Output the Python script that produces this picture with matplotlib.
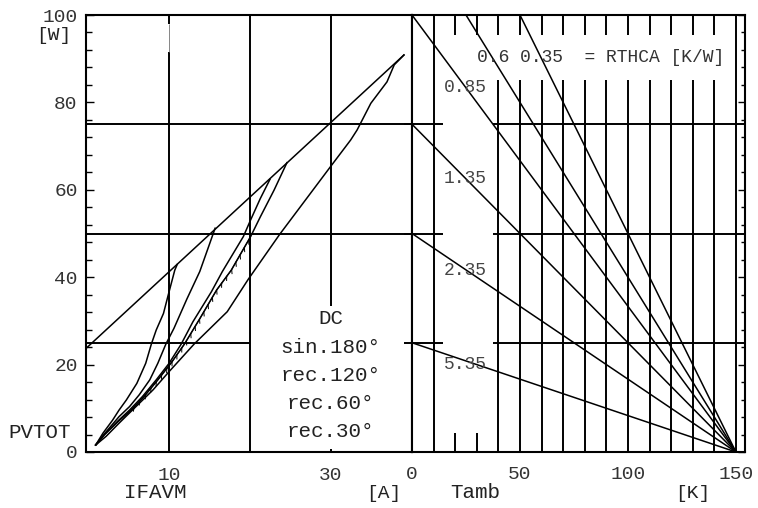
import matplotlib
matplotlib.use("Agg")
import matplotlib.pyplot as plt
import matplotlib.patheffects as pe

plt.rcParams['font.family'] = ['Liberation Mono', 'DejaVu Sans Mono']

# ---------------- data ----------------
# left diagram: total power loss PVTOT [W] vs average forward current IFAVM [A]
dc_i = [0.9, 2.2, 3.8, 5.9, 8.0, 10.0, 13.1, 17.2, 19.8, 23.7, 30.0, 32.5, 33.3, 35.0, 37.0, 37.9, 39.1]
dc_p = [1.6, 3.6, 6.6, 10.4, 14.2, 18.4, 24.7, 32.1, 39.5, 49.8, 65.3, 71.4, 73.7, 79.8, 84.7, 88.6, 90.85]

sin180_i = [0.9, 2.0, 3.7, 5.3, 6.9, 8.6, 10.3, 11.9, 13.8, 15.9, 17.7, 20.1, 21.3, 23.0, 24.6]
sin180_p = [1.6, 4.0, 7.0, 9.6, 12.7, 16.5, 20.5, 24.7, 30.5, 37.1, 41.6, 49.3, 53.8, 59.9, 66.2]

rec120_i = [0.9, 2.0, 3.6, 5.1, 6.7, 8.4, 10.0, 11.5, 12.95, 15.25, 16.6, 19.2, 20.1, 21.3, 22.5]
rec120_p = [1.6, 4.0, 7.0, 9.6, 12.7, 16.5, 20.3, 24.7, 29.8, 36.7, 41.3, 49.3, 53.1, 58.0, 62.4]

rec60_i = [0.9, 2.0, 3.8, 5.1, 6.3, 7.6, 8.6, 9.6, 10.6, 12.2, 13.8, 14.8, 15.7]
rec60_p = [1.6, 4.2, 8.1, 10.4, 13.1, 16.5, 20.3, 24.7, 28.3, 35.0, 41.3, 46.5, 51.2]

rec30_i = [0.9, 1.8, 3.0, 3.8, 4.7, 6.0, 7.1, 7.8, 8.4, 9.3, 9.9, 10.7, 11.0]
rec30_p = [1.6, 4.3, 7.3, 9.6, 11.9, 15.7, 20.3, 24.7, 27.9, 31.7, 36.0, 41.6, 42.9]

envelope_i = [-0.3, 39.1]
envelope_p = [23.7, 90.85]

legend_labels = ["DC", "sin.180°", "rec.120°", "rec.60°", "rec.30°"]

# right diagram: allowed power vs ambient temperature for several RTHCA
rthca_labels = ["0.35", "0.6", "0.85", "1.35", "2.35", "5.35"]
p_at_tamb0 = [150, 120, 100, 75, 50, 25]
tamb_ends = [0, 150]

left_xticks = [10, 30]
right_xticks = [0, 50, 100, 150]
y_major = [0, 20, 40, 60, 80, 100]

# ---------------- figure ----------------
W, H = 758, 508
fig = plt.figure(figsize=(W / 100, H / 100), dpi=100)
ax1 = fig.add_axes([86 / W, 56 / H, 326 / W, 437 / H])
ax2 = fig.add_axes([412 / W, 56 / H, 333 / W, 437 / H])

TXT = '#222222'
GLW = 1.4
CLW = 1.1

# ---- left axes ----
ax1.set_xlim(-0.3, 40.1)
ax1.set_ylim(0, 100)
for s in ax1.spines.values():
    s.set_linewidth(1.5)
ax1.set_yticks(y_major)
ax1.set_yticklabels([str(v) for v in y_major])
ax1.set_yticks(list(range(0, 101, 4)), minor=True)
ax1.tick_params(axis='y', which='major', direction='in', length=6, width=1.0,
                pad=6, labelsize=14, labelcolor='#333333')
ax1.tick_params(axis='y', which='minor', direction='in', length=4, width=1.0)
ax1.set_xticks(left_xticks)
ax1.set_xticklabels([str(v) for v in left_xticks])
ax1.tick_params(axis='x', length=0, pad=11, labelsize=14, labelcolor='#333333')

# grid (left)
ax1.vlines(10, 0, 91.5, color='k', lw=GLW)
ax1.vlines(10, 91.5, 98, color='0.45', lw=0.6)
ax1.vlines(10, 98, 100, color='k', lw=GLW)
ax1.vlines(20, 0, 100, color='k', lw=GLW)
ax1.vlines(30, 33.3, 100, color='k', lw=GLW)
ax1.vlines(30, 0, 0.8, color='k', lw=GLW)
ax1.hlines(25, -0.3, 20, color='k', lw=GLW)
ax1.hlines([50, 75], -0.3, 40.1, color='k', lw=GLW)

# curves
ax1.plot(envelope_i, envelope_p, color='k', lw=CLW)
for xi, yi in [(dc_i, dc_p), (sin180_i, sin180_p), (rec120_i, rec120_p),
               (rec60_i, rec60_p), (rec30_i, rec30_p)]:
    ax1.plot(xi, yi, color='k', lw=CLW)
# small hatch ticks along the sin.180 curve
sub = [(a, b) for a, b in zip(sin180_i, sin180_p) if 8 <= b <= 50]
ax1.plot([a for a, b in sub], [b for a, b in sub], color='k', lw=0.7,
         path_effects=[pe.withTickedStroke(angle=-145, spacing=6, length=0.5)])

legend_base = [29.3, 22.65, 16.25, 9.84, 3.43]
for lab, yb in zip(legend_labels, legend_base):
    ax1.text(30, yb, lab, ha='center', va='baseline', fontsize=15, color=TXT)

# ---- right axes ----
ax2.set_xlim(0, 154.2)
ax2.set_ylim(0, 100)
for s in ax2.spines.values():
    s.set_linewidth(1.5)
ax2.yaxis.tick_right()
ax2.set_yticks(y_major)
ax2.set_yticklabels([])
ax2.set_yticks(list(range(0, 101, 4)), minor=True)
ax2.tick_params(axis='y', which='major', direction='in', length=5, width=1.0)
ax2.tick_params(axis='y', which='minor', direction='in', length=3, width=1.0)
ax2.set_xticks(right_xticks)
ax2.set_xticklabels([str(v) for v in right_xticks])
ax2.tick_params(axis='x', length=0, pad=10, labelsize=14, labelcolor='#333333')

# grid (right)
ax2.vlines(10, 0, 100, color='k', lw=GLW)
ax2.vlines(150, 0, 100, color='k', lw=GLW)
ax2.vlines(list(range(20, 150, 10)), 95.4, 100, color='k', lw=GLW)
ax2.vlines(list(range(40, 150, 10)), 0, 85.1, color='k', lw=GLW)
ax2.vlines([20, 30], 0, 4.4, color='k', lw=GLW)
ax2.hlines([25, 50, 75], -3.7, 14.4, color='k', lw=GLW, clip_on=False)
ax2.hlines([25, 50, 75], 37.5, 154.2, color='k', lw=GLW)

for p0 in p_at_tamb0:
    ax2.plot(tamb_ends, [p0, 0], color='k', lw=CLW)

label_pos = {"0.85": 83.3, "1.35": 62.7, "2.35": 41.5, "5.35": 20.1}
for lab in rthca_labels:
    if lab in label_pos:
        ax2.text(14.6, label_pos[lab], lab, ha='left', va='center',
                 fontsize=13, color='#444444')
ax2.text(29.9, 90.2, "0.6 0.35  = RTHCA [K/W]", ha='left', va='center',
         fontsize=13, color='#333333')

# ---- axis titles ----
def ftext(x, y, s, **kw):
    fig.text(x / W, 1 - y / H, s, color=TXT, **kw)

ftext(40, 432.5, "PVTOT", ha='center', va='center', fontsize=15)
ftext(54, 35, "[W]", ha='center', va='center', fontsize=14)
ftext(155, 493, "IFAVM", ha='center', va='center', fontsize=15)
ftext(384, 493, "[A]", ha='center', va='center', fontsize=14)
ftext(475, 493, "Tamb", ha='center', va='center', fontsize=15)
ftext(693, 493, "[K]", ha='center', va='center', fontsize=14)

fig.savefig("out.png", dpi=100)
